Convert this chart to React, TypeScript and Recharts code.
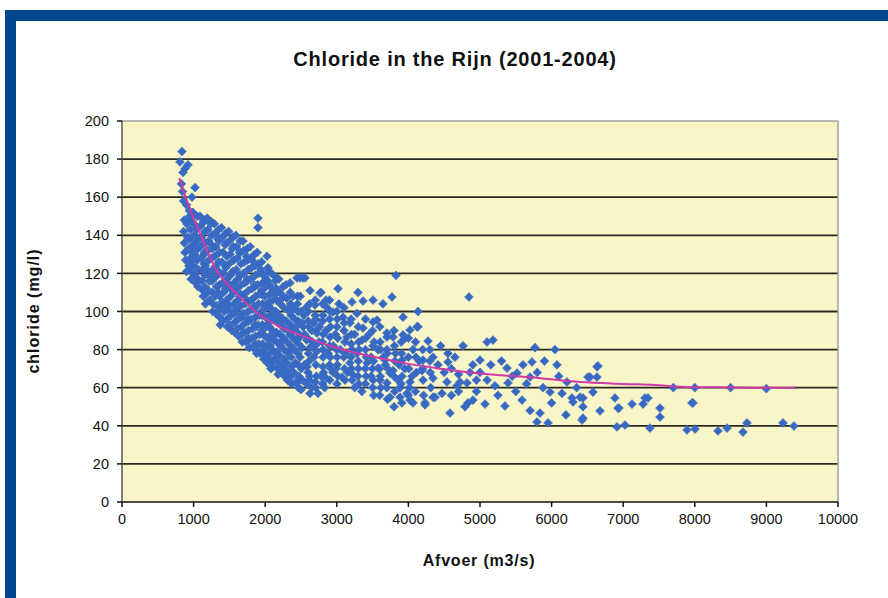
import React from "react";
import {
  ScatterChart,
  Scatter,
  XAxis,
  YAxis,
  CartesianGrid,
  ReferenceLine,
} from "recharts";

const TITLE = "Chloride in the Rijn (2001-2004)";
const X_LABEL = "Afvoer (m3/s)";
const Y_LABEL = "chloride (mg/l)";
const X_TICKS = [0, 1000, 2000, 3000, 4000, 5000, 6000, 7000, 8000, 9000, 10000];
const Y_TICKS = [0, 20, 40, 60, 80, 100, 120, 140, 160, 180, 200];

// [afvoer, chloride]
const topCluster: number[][] = [
  [838, 184], [810, 178.5], [922, 177], [852, 173], [880, 175], [1020, 165], [978, 160],
  [830, 167], [845, 163], [860, 158], [900, 156], [940, 153],
];

const denseCloud: number[][] = [
  [860, 142], [870, 136], [880, 131], [890, 127], [905, 146], [915, 139], [925, 133], [935, 124], [945, 150], [955, 128], [870, 148], [900, 121],
  [990, 152], [1005, 146], [1010, 140], [995, 135], [1015, 130], [1000, 124], [1020, 119], [1030, 115], [1040, 143], [1045, 137], [1050, 127],
  [1090, 150], [1100, 145], [1110, 139], [1095, 134], [1105, 128], [1120, 122], [1115, 116], [1130, 111], [1140, 147], [1150, 131], [1145, 125], [1135, 108],
  [1190, 149], [1200, 143], [1210, 137], [1195, 132], [1215, 127], [1205, 121], [1220, 116], [1210, 111], [1225, 106], [1240, 146], [1250, 135], [1245, 118],
  [1290, 146], [1300, 141], [1310, 134], [1295, 129], [1315, 124], [1305, 118], [1320, 113], [1300, 108], [1325, 103], [1310, 99], [1340, 138], [1350, 121], [1345, 110],
  [1390, 144], [1400, 139], [1410, 131], [1395, 126], [1415, 120], [1405, 115], [1420, 110], [1400, 105], [1425, 100], [1410, 95], [1440, 135], [1450, 124], [1445, 112], [1455, 103],
  [1490, 142], [1500, 137], [1510, 130], [1495, 125], [1515, 119], [1505, 114], [1520, 108], [1500, 103], [1525, 98], [1510, 93], [1540, 133], [1550, 121], [1545, 111], [1555, 100], [1535, 90],
  [1590, 140], [1600, 134], [1610, 128], [1595, 122], [1615, 117], [1605, 112], [1620, 106], [1600, 101], [1625, 96], [1610, 91], [1630, 87], [1640, 131], [1650, 119], [1645, 108], [1655, 98],
  [1690, 137], [1700, 132], [1710, 126], [1695, 120], [1715, 115], [1705, 109], [1720, 104], [1700, 99], [1725, 94], [1710, 89], [1730, 84], [1740, 129], [1750, 117], [1745, 106], [1755, 96], [1760, 86],
  [1790, 134], [1800, 128], [1810, 123], [1795, 117], [1815, 112], [1805, 106], [1820, 101], [1800, 96], [1825, 91], [1810, 86], [1830, 81], [1840, 126], [1850, 114], [1845, 103], [1855, 93], [1860, 83],
  [1899, 149], [1899, 144], [1890, 131], [1900, 125], [1910, 120], [1895, 114], [1915, 109], [1905, 104], [1920, 98], [1900, 93], [1925, 88], [1910, 83], [1930, 78], [1940, 122], [1950, 111], [1945, 100], [1955, 90], [1960, 80],
  [2025, 129], [2039, 123], [2000, 118], [2010, 113], [1995, 108], [2015, 102], [2005, 97], [2020, 92], [2000, 87], [2025, 82], [2010, 77], [2030, 73], [2040, 116], [2050, 105], [2045, 94], [2055, 85], [2060, 75],
  [2137, 116], [2090, 120], [2100, 112], [2110, 106], [2095, 101], [2115, 96], [2105, 90], [2120, 85], [2100, 80], [2125, 75], [2110, 71], [2140, 109], [2150, 99], [2145, 88], [2155, 78],
  [2190, 117], [2200, 110], [2210, 104], [2195, 98], [2215, 93], [2205, 88], [2220, 82], [2200, 77], [2225, 72], [2210, 68], [2240, 107], [2250, 95], [2245, 85], [2255, 74],
  [2290, 114], [2300, 107], [2310, 101], [2295, 95], [2315, 90], [2305, 84], [2320, 78], [2300, 73], [2325, 68], [2310, 64], [2346, 115], [2350, 100], [2345, 88], [2360, 80],
  [2388, 108], [2400, 102], [2410, 96], [2395, 91], [2415, 85], [2405, 80], [2420, 73], [2400, 68], [2425, 63], [2374, 67.7], [2444, 117.6], [2444, 85], [2444, 62.5], [2450, 104], [2460, 93],
  [2486, 117.6], [2528, 117.6], [2490, 108], [2500, 100], [2510, 94], [2528, 92], [2495, 87], [2515, 81], [2486, 76], [2505, 70], [2520, 64], [2500, 59], [2540, 98], [2550, 88], [2545, 72],
];

const denseFill: number[][] = [
  [950, 148], [955, 143], [948, 138], [952, 132], [958, 126], [960, 121], [965, 117],
  [1050, 150], [1055, 144], [1048, 139], [1060, 133], [1052, 128], [1065, 122], [1058, 117], [1062, 113],
  [1150, 148], [1155, 142], [1160, 136], [1148, 130], [1165, 124], [1158, 119], [1160, 113], [1170, 109], [1165, 104],
  [1250, 147], [1255, 140], [1262, 133], [1250, 128], [1265, 122], [1258, 116], [1262, 110], [1270, 104], [1268, 100],
  [1350, 143], [1355, 137], [1362, 131], [1350, 126], [1365, 120], [1358, 114], [1362, 108], [1370, 102], [1365, 97], [1372, 93],
  [1450, 141], [1455, 136], [1462, 129], [1450, 123], [1465, 117], [1458, 112], [1462, 106], [1470, 101], [1465, 96], [1472, 92],
  [1550, 139], [1555, 134], [1562, 127], [1550, 121], [1565, 115], [1558, 110], [1562, 104], [1570, 99], [1565, 94], [1572, 89],
  [1650, 137], [1655, 131], [1662, 125], [1650, 119], [1665, 114], [1658, 109], [1662, 103], [1670, 97], [1665, 92], [1672, 88], [1680, 84],
  [1750, 133], [1755, 127], [1762, 122], [1750, 116], [1765, 111], [1758, 105], [1762, 100], [1770, 95], [1765, 90], [1772, 85], [1780, 81],
  [1850, 130], [1855, 124], [1862, 119], [1850, 113], [1865, 108], [1858, 102], [1862, 97], [1870, 92], [1865, 87], [1872, 82], [1880, 78],
  [1950, 126], [1955, 120], [1962, 115], [1950, 109], [1965, 104], [1958, 98], [1962, 93], [1970, 88], [1965, 83], [1972, 79], [1980, 75],
  [2050, 121], [2055, 114], [2062, 109], [2050, 103], [2065, 98], [2058, 92], [2062, 87], [2070, 82], [2065, 78], [2072, 73], [2080, 70],
  [2150, 118], [2155, 112], [2162, 106], [2150, 100], [2165, 95], [2158, 89], [2162, 84], [2170, 79], [2165, 74], [2172, 70], [2180, 67],
  [2250, 113], [2255, 108], [2262, 102], [2250, 96], [2265, 91], [2258, 86], [2262, 80], [2270, 75], [2265, 70], [2272, 66],
  [2350, 110], [2355, 104], [2362, 98], [2350, 93], [2365, 87], [2358, 82], [2362, 76], [2370, 71], [2365, 66], [2372, 62],
  [2450, 108], [2455, 100], [2462, 95], [2450, 89], [2465, 83], [2458, 78], [2462, 72], [2470, 66], [2465, 60],
];

const midCloud: number[][] = [
  [2556, 117.6], [2626, 111], [2765, 109.7], [2779, 110], [2695, 103.4], [2863, 102], [2947, 99.7], [3087, 97], [3003, 92], [3184, 94], [3282, 99],
  [3142, 86.6], [2905, 86.6], [2723, 88.7], [2626, 81], [2807, 80], [3003, 76], [2584, 71], [2807, 71], [2947, 68], [3184, 73], [3282, 78], [2346, 80],
  [2626, 57], [2737, 57], [2600, 95], [2650, 90], [2700, 98], [2750, 84], [2620, 66], [2680, 76], [2700, 63], [2760, 92], [2800, 95], [2850, 90],
  [2880, 78], [2900, 96], [2950, 82], [2980, 88], [3050, 80], [3100, 90], [3120, 78], [3150, 68], [3200, 83], [3250, 88], [3300, 70], [3073, 65.6],
  [3226, 66.7], [2850, 65], [2650, 60], [2580, 62], [2580, 85], [2570, 102], [2620, 104], [2680, 94], [2720, 79], [2780, 66], [2830, 60], [2900, 72],
  [2990, 70], [3030, 104], [2850, 106], [2660, 84],
  [2600, 100], [2610, 92], [2595, 86], [2605, 78], [2612, 74], [2598, 68], [2615, 64],
  [2700, 106], [2705, 96], [2712, 90], [2698, 82], [2708, 72], [2715, 66], [2702, 60],
  [2800, 104], [2805, 98], [2812, 88], [2798, 84], [2808, 76], [2815, 68], [2802, 62],
  [2900, 106], [2905, 100], [2912, 92], [2898, 82], [2908, 76], [2915, 70], [2902, 64],
  [3000, 100], [3005, 96], [3012, 86], [2998, 80], [3008, 72], [3015, 66], [3002, 62],
  [3100, 102], [3105, 94], [3112, 84], [3098, 76], [3108, 70], [3115, 64],
  [3200, 96], [3205, 88], [3212, 80], [3198, 76], [3208, 70], [3215, 64],
  [3300, 92], [3305, 84], [3312, 80], [3298, 66], [3308, 62],
  [3400, 96], [3405, 86], [3412, 76], [3398, 70], [3408, 66],
  [3500, 90], [3505, 82], [3512, 74], [3498, 70], [3508, 64], [3515, 56],
  [3600, 92], [3605, 84], [3612, 80], [3598, 70], [3608, 66], [3615, 60],
  [3700, 80], [3705, 78], [3712, 70], [3698, 60], [3708, 54],
  [3800, 90], [3805, 82], [3812, 74], [3798, 66], [3808, 58],
  [3900, 84], [3905, 78], [3912, 66], [3898, 62], [3908, 52],
  [4000, 86], [4005, 70], [4012, 60], [3998, 56],
  [4100, 84], [4105, 76], [4112, 68], [4098, 58],
  [4200, 80], [4205, 64], [4212, 56],
  [4300, 74], [4305, 68], [4312, 60],
  [3017, 112], [3296, 110], [3212, 105], [3366, 105.5], [3506, 106], [3645, 104], [3771, 107.6], [3827, 119], [4134, 100], [3925, 97], [4846, 107.6],
  [3352, 85], [3575, 80], [3701, 86.6], [3925, 87.7], [4022, 90.3], [4134, 92], [3506, 94.5], [3366, 91.3], [3561, 95.5], [3422, 73], [3575, 70.3],
  [3743, 67.7], [3603, 64], [3855, 64], [3980, 57], [4232, 52], [4372, 55], [3700, 88.7], [3785, 86.6], [3953, 86], [4274, 84.5], [4120, 92],
  [3400, 80], [3450, 88], [3480, 76], [3520, 84], [3650, 76], [3680, 72], [3820, 78], [3870, 72], [3950, 70], [4000, 76], [4050, 66], [4150, 74],
  [4200, 70], [3400, 62], [3480, 66], [3785, 69], [3911, 74.5], [3673, 74.5], [4064, 80], [4344, 76], [4553, 73.5], [4553, 78], [4204, 74.5],
  [4413, 72], [4860, 68], [5000, 74.5], [4721, 63], [3743, 55], [3700, 62.5], [3883, 55], [4064, 52], [4344, 55], [4022, 53.5], [4469, 57],
  [4679, 61], [4344, 65], [4190, 69], [4022, 63], [3883, 60], [4539, 63], [4818, 62.5], [3800, 50], [3600, 56], [4300, 80], [4450, 82], [4500, 68],
  [4600, 70], [4650, 76], [4700, 67], [4763, 82], [4900, 72], [4950, 64], [3350, 58], [3500, 60], [3300, 74], [3250, 60],
];

const tailCloud: number[][] = [
  [5098, 84], [5182, 85], [5768, 81], [6047, 80], [6075, 72], [6634, 71], [5726, 73.5], [4232, 51], [4581, 46.7], [4832, 52], [4902, 53.5],
  [5070, 51.4], [5349, 50.4], [5796, 42], [5950, 41.5], [5838, 46.7], [4790, 50], [6200, 45.7], [5209, 61], [5391, 62.5], [5587, 53.5], [5880, 60],
  [5978, 57.7], [6145, 57], [6285, 54.6], [6397, 55], [6438, 50], [6536, 65.6], [6634, 65.6], [6215, 63], [5698, 65.6], [5517, 67.7], [5377, 70.3],
  [5000, 68], [6508, 65.6], [6578, 57.7], [6299, 52.5], [6438, 54.6], [6676, 47.8], [6425, 43], [6438, 44], [5300, 74], [5450, 66], [5600, 72],
  [5650, 62], [5500, 58], [5100, 64], [5250, 56], [5150, 72], [5800, 68], [5900, 74], [6100, 66], [6350, 60], [6000, 52], [5700, 48], [4600, 56],
  [4700, 58], [4950, 58],
  [6648, 71.4], [6885, 54.6], [7123, 51.4], [7305, 54.6], [7277, 51.4], [7514, 49.3], [7514, 44.6], [6941, 49.3], [6913, 39.4], [7025, 40.4],
  [7374, 38.8], [7975, 52], [7891, 37.8], [8003, 38.3], [8324, 37.3], [8450, 38.8], [8673, 36.7], [8729, 41.5], [9232, 41.5], [9385, 39.9],
  [6927, 49.3], [7346, 54.6], [7961, 52], [7700, 60], [8000, 60], [8500, 60], [9000, 59.5],
];

const trendX = [800, 880, 1000, 1130, 1300, 1410, 1650, 1930, 2200, 2500, 3000, 3300, 3600, 4000, 4300, 4450, 5000, 5700, 6400, 7000, 7500, 7800, 8300, 9000, 9400];
const trendY = [170, 161, 149, 137.5, 123, 117, 107.5, 98, 92, 87.5, 81, 78, 75.5, 72.5, 70.8, 70, 67.5, 65.5, 63, 62, 61.3, 60.5, 60.2, 60, 60];

const points = [...topCluster, ...denseCloud, ...denseFill, ...midCloud, ...tailCloud].map(([x, y]) => ({ x, y }));
const trend = trendX.map((x, i) => ({ x, y: trendY[i] }));

const FONT = "'Liberation Sans', Arial, sans-serif";

const Marker = (props: any) => {
  const { cx, cy } = props;
  if (cx == null || cy == null) return null;
  const r = 4.4;
  const s = 2.1;
  const d = `M${cx},${cy - r} L${cx + s},${cy - s} L${cx + r},${cy} L${cx + s},${cy + s} L${cx},${cy + r} L${cx - s},${cy + s} L${cx - r},${cy} L${cx - s},${cy - s} Z`;
  return <path d={d} fill="#3768c2" stroke="#3f6fc6" strokeWidth={0.8} />;
};

const NoShape = () => null;

export default function App() {
  return (
    <div style={{ position: "absolute", left: 0, top: 0, width: 888, height: 598, background: "#fff", overflow: "hidden", fontFamily: FONT }}>
      <div style={{ position: "absolute", left: 5, top: 10, width: 883, height: 11, background: "#02468f" }} />
      <div style={{ position: "absolute", left: 5, top: 10, width: 11, height: 588, background: "#02468f" }} />
      <ScatterChart
        width={888}
        height={598}
        margin={{ top: 121, right: 50, bottom: 66, left: 62 }}
        style={{ position: "absolute", left: 0, top: 0 }}
      >
        <CartesianGrid
          vertical={false}
          horizontalValues={[20, 40, 60, 80, 100, 120, 140, 160, 180]}
          stroke="#2a2a22"
          strokeWidth={1.8}
          fill="#f8f5c6"
          fillOpacity={1}
        />
        <ReferenceLine y={200} stroke="#a0a0a0" strokeWidth={1.5} />
        <ReferenceLine x={10000} stroke="#a0a0a0" strokeWidth={1.5} />
        <XAxis
          type="number"
          dataKey="x"
          domain={[0, 10000]}
          ticks={X_TICKS}
          interval={0}
          height={30}
          stroke="#111"
          strokeWidth={1.5}
          tickLine={{ stroke: "#111" }}
          tickSize={5}
          tick={{ fill: "#111", fontSize: 14.5, fontFamily: FONT }}
          tickMargin={7}
        />
        <YAxis
          type="number"
          dataKey="y"
          domain={[0, 200]}
          ticks={Y_TICKS}
          interval={0}
          width={60}
          stroke="#555"
          strokeWidth={1.5}
          tickLine={{ stroke: "#111" }}
          tickSize={5}
          tick={{ fill: "#111", fontSize: 14.5, fontFamily: FONT }}
          tickMargin={8}
        />
        <Scatter data={points} shape={<Marker />} isAnimationActive={false} />
        <Scatter
          data={trend}
          shape={<NoShape />}
          line={{ stroke: "#d03aa8", strokeWidth: 2 }}
          lineJointType="monotoneX"
          isAnimationActive={false}
        />
      </ScatterChart>
      <svg width={888} height={598} style={{ position: "absolute", left: 0, top: 0, pointerEvents: "none" }}>
        <text x={455} y={66} textAnchor="middle" fontSize={20} fontWeight="bold" letterSpacing={0.8} fill="#111" fontFamily={FONT}>{TITLE}</text>
        <text x={479} y={566} textAnchor="middle" fontSize={16} fontWeight="bold" letterSpacing={0.8} fill="#111" fontFamily={FONT}>{X_LABEL}</text>
        <text x={0} y={0} transform="translate(39,311) rotate(-90)" textAnchor="middle" fontSize={16} fontWeight="bold" letterSpacing={1} fill="#111" fontFamily={FONT}>{Y_LABEL}</text>
      </svg>
    </div>
  );
}
